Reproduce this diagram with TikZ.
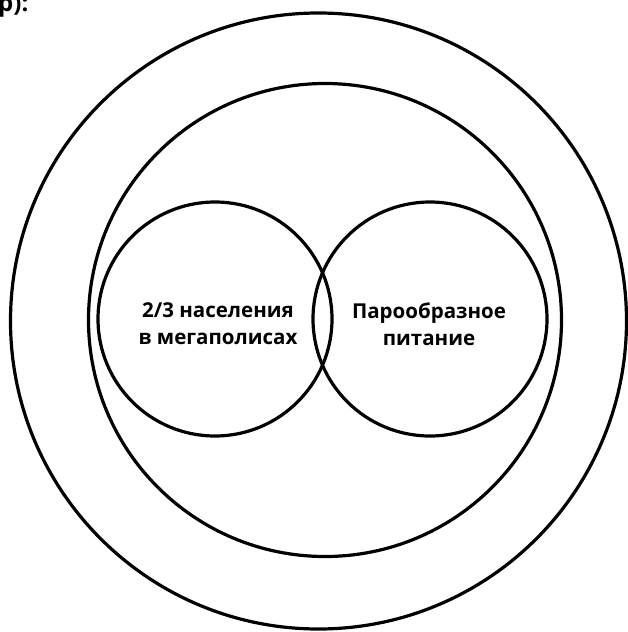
\documentclass[tikz,border=0pt]{standalone}
\usepackage{fontspec}
\setmainfont{Open Sans}
\begin{document}
\begin{tikzpicture}[x=1pt,y=-1pt,
  ring/.style={draw=black,line width=3.2pt},
  lbl/.style={font=\bfseries\fontsize{20.5}{27}\selectfont,align=center,inner sep=0pt}]
\useasboundingbox (0,0) rectangle (627,632);
\node[anchor=north west,inner sep=0pt,font=\bfseries\fontsize{24}{30}\selectfont] (hdr) at (-2,-6) {р):};
\node[ring,circle,minimum size=616pt,inner sep=0pt] (outer) at (318.5,321) {};
\node[ring,circle,minimum size=473pt,inner sep=0pt] (middle) at (325,320) {};
\node[ring,circle,minimum size=234pt,inner sep=0pt] (left) at (215,319) {};
\node[ring,circle,minimum size=234pt,inner sep=0pt] (right) at (430,319) {};
\node[lbl] (lt) at (218,324) {2/3 населения\\в мегаполисах};
\node[lbl] (rt) at (429,324) {Парообразное\\питание};
\end{tikzpicture}
\end{document}
